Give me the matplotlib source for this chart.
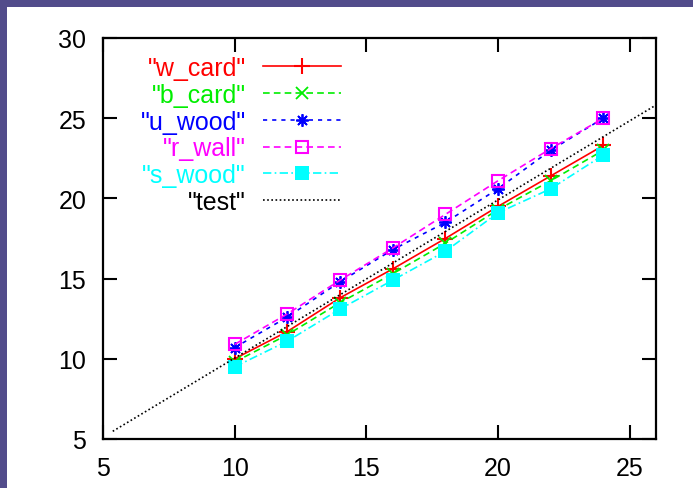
import matplotlib
matplotlib.use("Agg")
import matplotlib.pyplot as plt
from matplotlib.patches import Rectangle

# Measurements at each x position
x = [10, 12, 14, 16, 18, 20, 22, 24]
w_card = [10.0, 11.7, 13.8, 15.6, 17.5, 19.5, 21.4, 23.3]
b_card = [9.8, 11.5, 13.5, 15.3, 17.2, 19.3, 21.1, 23.0]
u_wood = [10.7, 12.6, 14.8, 16.8, 18.5, 20.6, 23.0, 25.0]
r_wall = [10.9, 12.8, 14.9, 16.9, 19.0, 21.1, 23.1, 25.0]
s_wood = [9.5, 11.1, 13.1, 14.9, 16.7, 19.1, 20.6, 22.7]

# Reference line
test_x = [5.37, 26.0]
test_y = [5.48, 25.82]

x_ticks = [5, 10, 15, 20, 25]
y_ticks = [5, 10, 15, 20, 25, 30]

plt.rcParams["font.family"] = ["Liberation Sans", "DejaVu Sans"]

W, H = 693, 489
fig = plt.figure(figsize=(W / 100, H / 100), dpi=100)
fig.patch.set_facecolor("#524C8B")
panel = Rectangle((7 / W, 0), 1 - 7 / W, (H - 8) / H,
                  transform=fig.transFigure, facecolor="white",
                  edgecolor="none", zorder=-10)
fig.add_artist(panel)

ax = fig.add_axes([103 / W, (H - 440) / H, 553 / W, 401 / H])
ax.set_facecolor("white")
ax.set_zorder(1)

ms = 9
ax.plot(x, w_card, color="#FF0000", lw=1.2, ls="-", marker="+", ms=ms + 2,
        mew=1.5, label='"w_card"')
ax.plot(x, b_card, color="#00EE00", lw=1.2, ls=(0, (4, 2.5)), marker="x",
        ms=ms - 1, mew=1.3, label='"b_card"')
ax.plot(x, u_wood, color="#0000FF", lw=1.2, ls=(0, (2.5, 3)), marker=(8, 2, 0),
        ms=ms, mew=1.3, label='"u_wood"')
ax.plot(x, r_wall, color="#FF00FF", lw=1.2, ls=(0, (4, 2.5)), marker="s",
        mfc="none", ms=ms, mew=1.5, label='"r_wall"')
ax.plot(x, s_wood, color="#00FFFF", lw=1.2, ls=(0, (5, 2, 1, 2)), marker="s",
        ms=ms + 1, mew=0, label='"s_wood"')
ax.plot(test_x, test_y, color="black", lw=1.2, ls=(0, (1, 1.5)),
        label='"test"')

ax.set_xlim(5, 26)
ax.set_ylim(5, 30)
ax.set_xticks(x_ticks)
ax.set_yticks(y_ticks)
ax.tick_params(direction="in", top=True, right=True, length=10, width=1.5,
               labelsize=18, pad=12, colors="black")
for s in ax.spines.values():
    s.set_linewidth(1.6)

leg = ax.legend(loc="upper right", bbox_to_anchor=(0.43, 0.955),
                markerfirst=False, frameon=False, fontsize=18,
                labelcolor="linecolor", handlelength=3.1,
                handletextpad=0.7, labelspacing=0.11, borderpad=0,
                borderaxespad=0)

fig.savefig("out.png", dpi=100, facecolor=fig.get_facecolor())
